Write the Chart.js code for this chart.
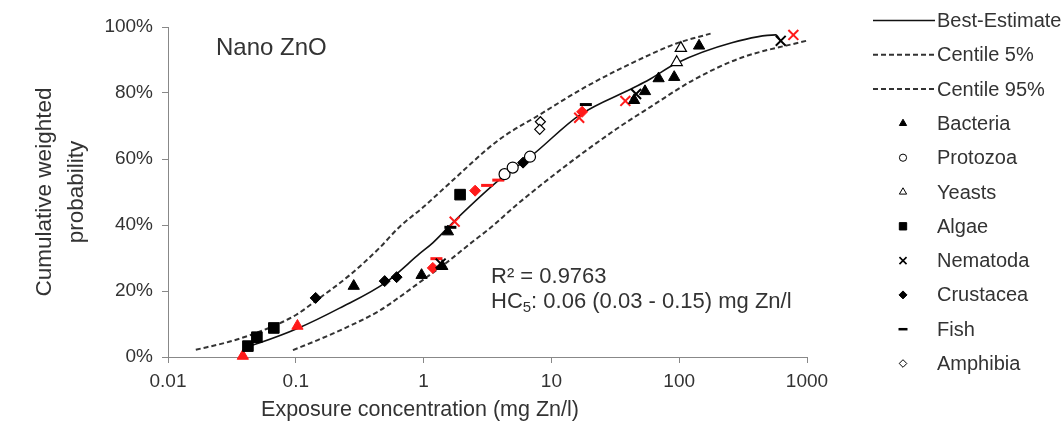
<!DOCTYPE html>
<html>
<head>
<meta charset="utf-8">
<script src="https://cdn.jsdelivr.net/npm/chart.js@4/dist/chart.umd.min.js"></script>
<style>
html,body{margin:0;padding:0;background:#fff;}
#wrap{width:1064px;height:432px;position:relative;}
</style>
</head>
<body>
<div id="wrap"><canvas id="c" width="1064" height="432"></canvas></div>
<script>
// ---------- data ----------
const xTicks = [0.01, 0.1, 1, 10, 100, 1000];
const yTicks = [0, 20, 40, 60, 80, 100];

const bestX = [0.0406, 0.0523, 0.104, 0.22, 0.51, 0.93, 1.18, 1.75, 3.88, 7.1, 16.6, 43.5, 58, 95, 258, 569, 623];
const bestY = [3.0, 4.3, 8.7, 14.8, 22.7, 31.3, 34.6, 41.3, 53.6, 61.2, 73.3, 81.5, 84.0, 89.0, 95.2, 97.6, 95.8];

const c5X = [0.0165, 0.03, 0.0437, 0.066, 0.101, 0.143, 0.264, 0.45, 0.65, 1.0, 1.59, 3.88, 8.0, 18.6, 58, 95, 176];
const c5Y = [2.2, 4.6, 6.6, 9.3, 12.8, 17.0, 24.8, 33.0, 39.5, 45.5, 52.6, 65.8, 73.3, 81.9, 91.5, 95.0, 98.0];

const c95X = [0.095, 0.15, 0.22, 0.45, 0.65, 1.0, 1.5, 2.43, 3.3, 5.3, 13, 32, 58, 130, 297, 1030];
const c95Y = [2.1, 5.2, 8.0, 14.0, 18.2, 23.5, 28.5, 35.0, 39.0, 46.0, 58.0, 69.0, 75.5, 84.0, 90.5, 96.0];

const bacteriaX = [0.284, 0.964, 1.40, 1.55, 44.4, 54.0, 69.0, 91.4, 143];
const bacteriaY = [21.5, 24.8, 27.5, 38.0, 77.8, 80.5, 84.4, 84.8, 94.3];
const bacteriaRedX = [0.0385, 0.103];
const bacteriaRedY = [0.3, 9.4];

const protozoaX = [4.3, 4.98, 6.8];
const protozoaY = [55.4, 57.4, 60.7];

const yeastsX = [95.6, 103];
const yeastsY = [89.3, 93.6];

const algaeX = [0.0422, 0.0496, 0.0673, 1.93];
const algaeY = [3.3, 6.0, 8.8, 49.2];

const nematodaX = [1.36, 46.0, 623];
const nematodaY = [28.3, 79.7, 95.8];
const nematodaRedX = [1.75, 16.5, 37.9, 782];
const nematodaRedY = [41.0, 72.5, 77.6, 97.6];

const crustaceaX = [0.143, 0.496, 0.615, 6.0];
const crustaceaY = [17.9, 23.0, 24.2, 58.9];
const crustaceaRedX = [1.18, 2.53, 17.4];
const crustaceaRedY = [27.0, 50.4, 74.3];

const fishX = [1.62, 18.6];
const fishY = [39.3, 76.5];
const fishRedX = [1.26, 3.14, 3.84];
const fishRedY = [29.8, 52.0, 53.6];

const amphibiaX = [8.2, 8.1];
const amphibiaY = [71.3, 69.0];

const panelLabel = 'Nano ZnO';
const xTitle = 'Exposure concentration (mg Zn/l)';
const yTitle = ['Cumulative weighted', 'probability'];
const r2Text = 'R² = 0.9763';
const hcMain = 'HC';
const hcSub = '5';
const hcRest = ': 0.06 (0.03 - 0.15) mg Zn/l';

// ---------- helpers ----------
const pts = (xs, ys) => xs.map((x, i) => ({x: x, y: ys[i]}));
const FONT = '"Liberation Sans", Arial, sans-serif';
const TXT = '#333333';
const RED = '#ff1a1a';
const BLK = '#000000';

function marker(label, xs, ys, style, color, fill, r, bw, extra) {
  return Object.assign({
    label: label,
    data: pts(xs, ys),
    showLine: false,
    pointStyle: style,
    pointRadius: r,
    pointHoverRadius: r,
    pointBorderWidth: bw,
    backgroundColor: fill,
    borderColor: color,
    pointBackgroundColor: fill,
    pointBorderColor: color,
    clip: false,
    order: 0
  }, extra || {});
}

function curve(label, xs, ys, color, width, dash) {
  return {label: label, data: pts(xs, ys), showLine: true, borderColor: color, borderWidth: width,
          borderDash: dash, pointRadius: 0, pointHoverRadius: 0, cubicInterpolationMode: 'monotone',
          fill: false, order: 2, clip: false};
}

const datasets = [
  curve('Best-Estimate', bestX, bestY, '#111', 1.6, []),
  curve('Centile 5%', c5X, c5Y, '#333', 2, [5, 3]),
  curve('Centile 95%', c95X, c95Y, '#333', 2, [5, 3]),
  marker('Bacteria', bacteriaX, bacteriaY, 'triangle', BLK, BLK, 6.5, 1, {legendRadius: 4.2}),
  marker('Protozoa', protozoaX, protozoaY, 'circle', BLK, '#fff', 5.5, 1.2, {legendRadius: 3.6}),
  marker('Yeasts', yeastsX, yeastsY, 'triangle', BLK, '#fff', 6.5, 1.2, {legendRadius: 4.2}),
  marker('Algae', algaeX, algaeY, 'rect', BLK, BLK, 7.5, 1, {legendRadius: 5.2}),
  marker('Nematoda', nematodaX, nematodaY, 'crossRot', BLK, BLK, 7, 2, {legendRadius: 5}),
  marker('Crustacea', crustaceaX, crustaceaY, 'rectRot', BLK, BLK, 5.5, 1, {legendRadius: 4}),
  marker('Fish', fishX, fishY, 'line', BLK, BLK, 6, 3, {legendRadius: 4.5}),
  marker('Amphibia', amphibiaX, amphibiaY, 'rectRot', BLK, '#fff', 5, 1.2, {legendRadius: 3.8}),
  marker('Bacteria', bacteriaRedX, bacteriaRedY, 'triangle', RED, RED, 6.5, 1, {noLegend: true}),
  marker('Nematoda', nematodaRedX, nematodaRedY, 'crossRot', RED, RED, 7, 2, {noLegend: true}),
  marker('Crustacea', crustaceaRedX, crustaceaRedY, 'rectRot', RED, RED, 5.5, 1, {noLegend: true}),
  marker('Fish', fishRedX, fishRedY, 'line', RED, RED, 6, 3, {noLegend: true})
];

// ---------- plugins ----------
const sideLegend = {
  id: 'sideLegend',
  afterDraw(chart) {
    const ctx = chart.ctx;
    const list = chart.data.datasets.filter(d => !d.noLegend);
    ctx.save();
    list.forEach((d, i) => {
      const y = 20.5 + i * 34.3;
      if (d.showLine) {
        ctx.save();
        ctx.strokeStyle = d.borderColor;
        ctx.lineWidth = d.borderWidth;
        ctx.setLineDash(d.borderDash || []);
        ctx.beginPath(); ctx.moveTo(873, y); ctx.lineTo(935, y); ctx.stroke();
        ctx.restore();
      } else {
        ctx.save();
        ctx.fillStyle = d.pointBackgroundColor;
        ctx.strokeStyle = d.pointBorderColor;
        ctx.lineWidth = d.pointStyle === 'line' ? 2.5 : (d.pointStyle === 'crossRot' ? 1.6 : 1);
        Chart.helpers.drawPoint(ctx, {pointStyle: d.pointStyle, radius: d.legendRadius, rotation: 0, borderWidth: ctx.lineWidth}, 903, y);
        ctx.restore();
      }
      ctx.fillStyle = TXT;
      ctx.font = '20px ' + FONT;
      ctx.textBaseline = 'middle';
      ctx.textAlign = 'left';
      ctx.fillText(d.label, 937, y + 1);
    });
    ctx.restore();
  }
};

const notes = {
  id: 'notes',
  afterDraw(chart) {
    const ctx = chart.ctx;
    ctx.save();
    ctx.fillStyle = TXT;
    ctx.textBaseline = 'middle';
    ctx.textAlign = 'center';
    ctx.font = '21.5px ' + FONT;
    ctx.fillText(xTitle, 420, 410);
    ctx.textAlign = 'left';
    ctx.font = '24px ' + FONT;
    ctx.fillText(panelLabel, 216, 48);
    ctx.font = '22px ' + FONT;
    ctx.fillText(r2Text, 491, 277);
    let x = 491, y = 302;
    ctx.fillText(hcMain, x, y);
    x += ctx.measureText(hcMain).width;
    ctx.font = '15px ' + FONT;
    ctx.fillText(hcSub, x, y + 6);
    x += ctx.measureText(hcSub).width;
    ctx.font = '22px ' + FONT;
    ctx.fillText(hcRest, x, y);
    ctx.restore();
  }
};

new Chart(document.getElementById('c'), {
  type: 'scatter',
  data: {datasets: datasets},
  options: {
    responsive: false,
    animation: false,
    devicePixelRatio: 1,
    layout: {padding: {left: 0, right: 257, top: 27, bottom: 0}},
    plugins: {legend: {display: false}, tooltip: {enabled: false}},
    scales: {
      x: {
        type: 'logarithmic',
        min: 0.01, max: 1000,
        afterBuildTicks(scale) { scale.ticks = xTicks.map(v => ({value: v})); },
        afterFit(scale) { scale.height = 75; },
        ticks: {
          autoSkip: false, maxRotation: 0, minRotation: 0, padding: 7,
          color: TXT, font: {family: FONT, size: 19},
          callback: (v) => String(v)
        },
        grid: {display: true, drawOnChartArea: false, drawTicks: true, tickLength: 6, color: '#888', lineWidth: 1},
        border: {display: true, color: '#888', width: 1},
        title: {display: false, text: xTitle}
      },
      y: {
        type: 'linear',
        min: 0, max: 100,
        afterBuildTicks(scale) { scale.ticks = yTicks.map(v => ({value: v})); },
        afterFit(scale) { scale.width = 168; },
        ticks: {
          padding: 9, color: TXT, font: {family: FONT, size: 19},
          callback: (v) => v + '%'
        },
        grid: {display: true, drawOnChartArea: false, drawTicks: true, tickLength: 6, color: '#888', lineWidth: 1},
        border: {display: true, color: '#888', width: 1},
        title: {display: true, text: yTitle, color: TXT,
                font: {family: FONT, size: 22.5, lineHeight: 1.45}, padding: {top: 28, bottom: 0}}
      }
    }
  },
  plugins: [sideLegend, notes]
});
</script>
</body>
</html>
